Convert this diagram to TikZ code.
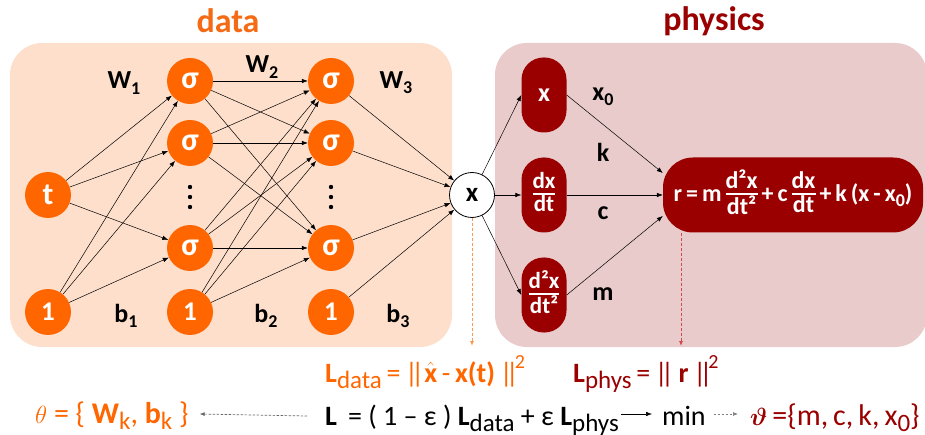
\documentclass[tikz,border=0pt]{standalone}
\usepackage{fontspec}
\setmainfont{Carlito}
\usepackage{amsmath,amsbsy}
\usetikzlibrary{arrows.meta}
\definecolor{orng}{HTML}{FF6600}
\definecolor{orngtxt}{HTML}{F56A14}
\definecolor{dred}{HTML}{9B0000}
\definecolor{peach}{HTML}{FDDFCB}
\definecolor{pinkbg}{HTML}{E9CBCB}
\definecolor{orngdash}{HTML}{F99850}
\definecolor{reddash}{HTML}{D04848}
\setlength\arrayrulewidth{1.7pt}
\newcommand\fs[1]{\fontsize{#1}{#1}\selectfont}
\newcommand\myfrac[2]{{\renewcommand\arraystretch{0.85}\begin{tabular}[c]{@{}c@{}}#1\\[-1pt]\hline\noalign{\vskip 1pt}#2\end{tabular}}}
\newcommand\sub[1]{\raisebox{-0.22em}{\fs{25}#1}}
\newcommand\subs[1]{\raisebox{-0.2em}{\fs{18}#1}}
\newcommand\sqr{\kern-0.14em\raisebox{0.5em}{\fs{20}2}}
\newcommand\dbar{|\kern-0.24em|}
\begin{document}
\begin{tikzpicture}[x=1pt,y=-1pt,
  neuron/.style={circle,fill=orng,text=white,font=\fs{27}\bfseries,minimum size=46pt,inner sep=0pt},
  outn/.style={circle,draw=black,line width=0.8pt,fill=white,minimum size=45pt,inner sep=0pt,font=\fs{27}\bfseries},
  derivbox/.style={rectangle,rounded corners=22pt,fill=dred,text=white,minimum width=45pt,minimum height=75pt,inner sep=0pt,font=\fs{23}\bfseries},
  resbox/.style={rectangle,rounded corners=30pt,fill=dred,text=white,minimum width=260pt,minimum height=75pt,inner sep=0pt,font=\fs{24}\bfseries},
  conn/.style={-{Latex[length=6pt,width=4.5pt]},line width=0.5pt,black},
  wlabel/.style={font=\fs{26}\bfseries,inner sep=0pt},
  title/.style={font=\fs{34}\bfseries,inner sep=0pt},
  eqtext/.style={font=\fs{28},inner sep=0pt,anchor=base west}
]
\useasboundingbox (0,0) rectangle (925,435);
% panels
\fill[peach, rounded corners=32pt] (10,43) rectangle (452,347);
\fill[pinkbg, rounded corners=32pt] (495,43) rectangle (927,347);
% titles
\node[title,text=orngtxt] (tdata) at (228,21) {data};
\node[title,text=dred] (tphys) at (714,21) {physics};
% network nodes
\node[neuron,font=\fs{31}\bfseries] (t) at (48,195) {t};
\node[neuron] (one0) at (48,312) {1};
\node[neuron,font=\fs{32}\bfseries] (a1) at (190,81) {σ};
\node[neuron,font=\fs{32}\bfseries] (a2) at (190,143) {σ};
\node[neuron,font=\fs{32}\bfseries] (a3) at (190,248) {σ};
\node[neuron] (one1) at (190,312) {1};
\node[neuron,font=\fs{32}\bfseries] (b1) at (331,81) {σ};
\node[neuron,font=\fs{32}\bfseries] (b2) at (331,143) {σ};
\node[neuron,font=\fs{32}\bfseries] (b3) at (331,248) {σ};
\node[neuron] (one2) at (331,312) {1};
\node[outn] (xout) at (472,195) {x};
% vertical dots
\foreach \xx in {190,331}{
  \fill (\xx,187) circle (2.2pt);
  \fill (\xx,197) circle (2.2pt);
  \fill (\xx,207) circle (2.2pt);
}
% labels
\node[wlabel] (w1) at (124,83) {W\subs{1}};
\node[wlabel] (w2) at (262,67) {W\subs{2}};
\node[wlabel] (w3) at (396,83) {W\subs{3}};
\node[wlabel] (bb1) at (126,316) {b\subs{1}};
\node[wlabel] (bb2) at (266,316) {b\subs{2}};
\node[wlabel] (bb3) at (398,316) {b\subs{3}};
% connections
\foreach \s in {t,one0}{
  \foreach \d in {a1,a2,a3}{
    \draw[conn] (\s) -- (\d);
  }
}
\foreach \s in {a1,a2,a3,one1}{
  \foreach \d in {b1,b2,b3}{
    \draw[conn] (\s) -- (\d);
  }
}
\foreach \s in {b1,b2,b3,one2}{
  \draw[conn] (\s) -- (xout);
}
% physics nodes
\node[derivbox,font=\fs{26}\bfseries] (px) at (544,95) {x};
\node[derivbox] (pdx) at (544,195) {\myfrac{dx}{dt}};
\node[derivbox] (pddx) at (544,295) {\myfrac{d²x}{dt²}};
\node[resbox] (r) at (793,195) {r\,=\,m\,\myfrac{d²x}{dt²}\,+\,c\,\myfrac{dx}{dt}\,+\,k\,(x\,-\,x\subs{0})};
\node[wlabel] (lx0) at (603,97) {x\subs{0}};
\node[wlabel] (lk) at (603,152) {k};
\node[wlabel] (lc) at (603,213) {c};
\node[wlabel] (lm) at (603,294) {m};
\draw[conn] (xout) -- (px.west);
\draw[conn] (xout) -- (pdx.west);
\draw[conn] (xout) -- (pddx.west);
\draw[conn] (px.east) -- ([yshift=22pt]r.west);
\draw[conn] (pdx.east) -- (r.west);
\draw[conn] (pddx.east) -- ([yshift=-21pt]r.west);
% loss texts
\node[eqtext,text=orng] (ldata) at (325,382) {{\bfseries L}\sub{data}\,=\,\dbar$\hat{\text{\bfseries x}}$\,-\,{\bfseries x(t)}\,\dbar\sqr};
\node[eqtext,text=dred] (lphys) at (573,382) {{\bfseries L}\sub{phys}\,=\,\dbar\,{\bfseries r}\,\dbar\sqr};
\node[eqtext] (ltot) at (325,425) {{\bfseries L} \,= ( 1 – ε ) {\bfseries L}\sub{data} + ε {\bfseries L}\sub{phys}};
\node[eqtext] (minn) at (662,425) {min};
\node[eqtext,text=dred,font=\fs{30}] (vth) at (750,425) {$\boldsymbol{\vartheta}$\,=\{m,\,c,\,k,\,x\sub{0}\}};
\node[eqtext,text=orng,font=\fs{30}] (theta) at (35,423) {$\theta$ = \{ {\bfseries W}\sub{k}, {\bfseries b}\sub{k} \}};
% dashed arrows
\coordinate (dend) at (472,346);
\coordinate (rend) at (681,346);
\draw[-{Latex[length=5pt,width=4pt]},orngdash,line width=1pt,dash pattern=on 3pt off 2pt] (xout.south) -- (dend);
\draw[-{Latex[length=5pt,width=4pt]},reddash,line width=0.9pt,dash pattern=on 3pt off 2pt] ([xshift=-112pt]r.south) -- (rend);
\draw[conn] ([xshift=2pt,yshift=11pt]ltot.base east) -- ([xshift=-10pt,yshift=11pt]minn.base west);
\draw[-{Latex[length=5pt,width=4pt]},gray,line width=0.7pt,dash pattern=on 2.5pt off 1.5pt] ([xshift=8pt,yshift=11pt]minn.base east) -- ([xshift=-12pt,yshift=11pt]vth.base west);
\draw[-{Latex[length=5pt,width=4pt]},gray!80!black,line width=0.7pt,dash pattern=on 2.5pt off 1.5pt] ([xshift=-18pt,yshift=9pt]ltot.base west) -- ([xshift=11pt,yshift=9pt]theta.base east);
\end{tikzpicture}
\end{document}
